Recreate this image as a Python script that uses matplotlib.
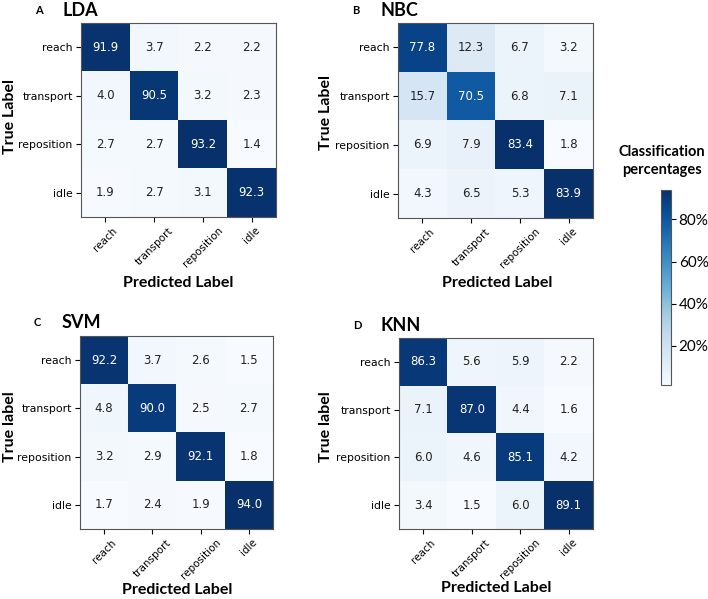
import numpy as np
import matplotlib
matplotlib.use('Agg')
import matplotlib.pyplot as plt
from matplotlib.colors import Normalize
from matplotlib.cm import ScalarMappable

classes = ['reach', 'transport', 'reposition', 'idle']

lda = [[91.9, 3.7, 2.2, 2.2],
       [4.0, 90.5, 3.2, 2.3],
       [2.7, 2.7, 93.2, 1.4],
       [1.9, 2.7, 3.1, 92.3]]
nbc = [[77.8, 12.3, 6.7, 3.2],
       [15.7, 70.5, 6.8, 7.1],
       [6.9, 7.9, 83.4, 1.8],
       [4.3, 6.5, 5.3, 83.9]]
svm = [[92.2, 3.7, 2.6, 1.5],
       [4.8, 90.0, 2.5, 2.7],
       [3.2, 2.9, 92.1, 1.8],
       [1.7, 2.4, 1.9, 94.0]]
knn = [[86.3, 5.6, 5.9, 2.2],
       [7.1, 87.0, 4.4, 1.6],
       [6.0, 4.6, 85.1, 4.2],
       [3.4, 1.5, 6.0, 89.1]]

panels = [('A', 'LDA', lda, 'True Label'),
          ('B', 'NBC', nbc, 'True Label'),
          ('C', 'SVM', svm, 'True label'),
          ('D', 'KNN', knn, 'True label')]

# axes boxes in pixels: left, top, right, bottom
boxes = [(81, 23, 276, 217),
         (398, 23, 593, 218),
         (80, 336, 273, 529),
         (399, 338, 593, 529)]
# label positions in pixels: (xlabel x, xlabel y), (ylabel x, ylabel y)
label_pos = [((178, 283), (10, 117)),
             ((497, 283), (326, 113)),
             ((177, 590), (10, 427)),
             ((496, 588), (326, 427))]

W, H = 708, 599
fig = plt.figure(figsize=(W / 100, H / 100), dpi=100)
bold_font = ['Lato', 'DejaVu Sans']


def px(l, t, r, b):
    return [l / W, 1 - b / H, (r - l) / W, (b - t) / H]


for (letter, name, cm, ylab), box, (xl, yl) in zip(panels, boxes, label_pos):
    cm = np.array(cm)
    ax = fig.add_axes(px(*box))
    ax.imshow(cm, cmap='Blues', vmin=cm.min(), vmax=cm.max(), aspect='auto')
    thresh = cm.max() / 2
    for i in range(4):
        for j in range(4):
            ax.text(j, i, '%.1f' % cm[i, j], ha='center', va='center', fontsize=8.5,
                    color='white' if cm[i, j] > thresh else '#222222')
    ax.set_xticks(range(4))
    ax.set_yticks(range(4))
    ax.set_xticklabels(classes, rotation=45, ha='center', fontsize=7.5)
    ax.set_yticklabels(classes, fontsize=7.8)
    ax.tick_params(length=3.5, pad=2.5)
    for s in ax.spines.values():
        s.set_color('#555555')
    fig.text(xl[0] / W, 1 - xl[1] / H, 'Predicted Label', ha='center', va='center',
             fontsize=11.5, fontweight='bold', family=bold_font)
    fig.text(yl[0] / W, 1 - yl[1] / H, ylab, ha='center', va='center', rotation=90,
             fontsize=11.5, fontweight='bold', family=bold_font)
    l, t, r, b = box
    fig.text((l - 46) / W, 1 - (t - 13) / H, letter, fontsize=8, fontweight='bold',
             family=bold_font, va='center')
    fig.text((l - 18) / W, 1 - (t - 13) / H, name, fontsize=13, fontweight='bold',
             family=bold_font, va='center')

# shared colorbar
cax = fig.add_axes(px(661, 190, 671, 385))
sm = ScalarMappable(norm=Normalize(vmin=1.4, vmax=94.0), cmap='Blues')
cb = fig.colorbar(sm, cax=cax, ticks=[20, 40, 60, 80])
cb.ax.set_yticklabels(['20%', '40%', '60%', '80%'], fontsize=11, family=bold_font)
cb.ax.tick_params(length=3.5, pad=2)
cb.outline.set_edgecolor('#555555')
fig.text(662 / W, 1 - 161 / H, 'Classification\npercentages', ha='center', va='center',
         fontsize=10.5, fontweight='bold', family=bold_font, linespacing=1.3)

fig.savefig('out.png', dpi=100)
